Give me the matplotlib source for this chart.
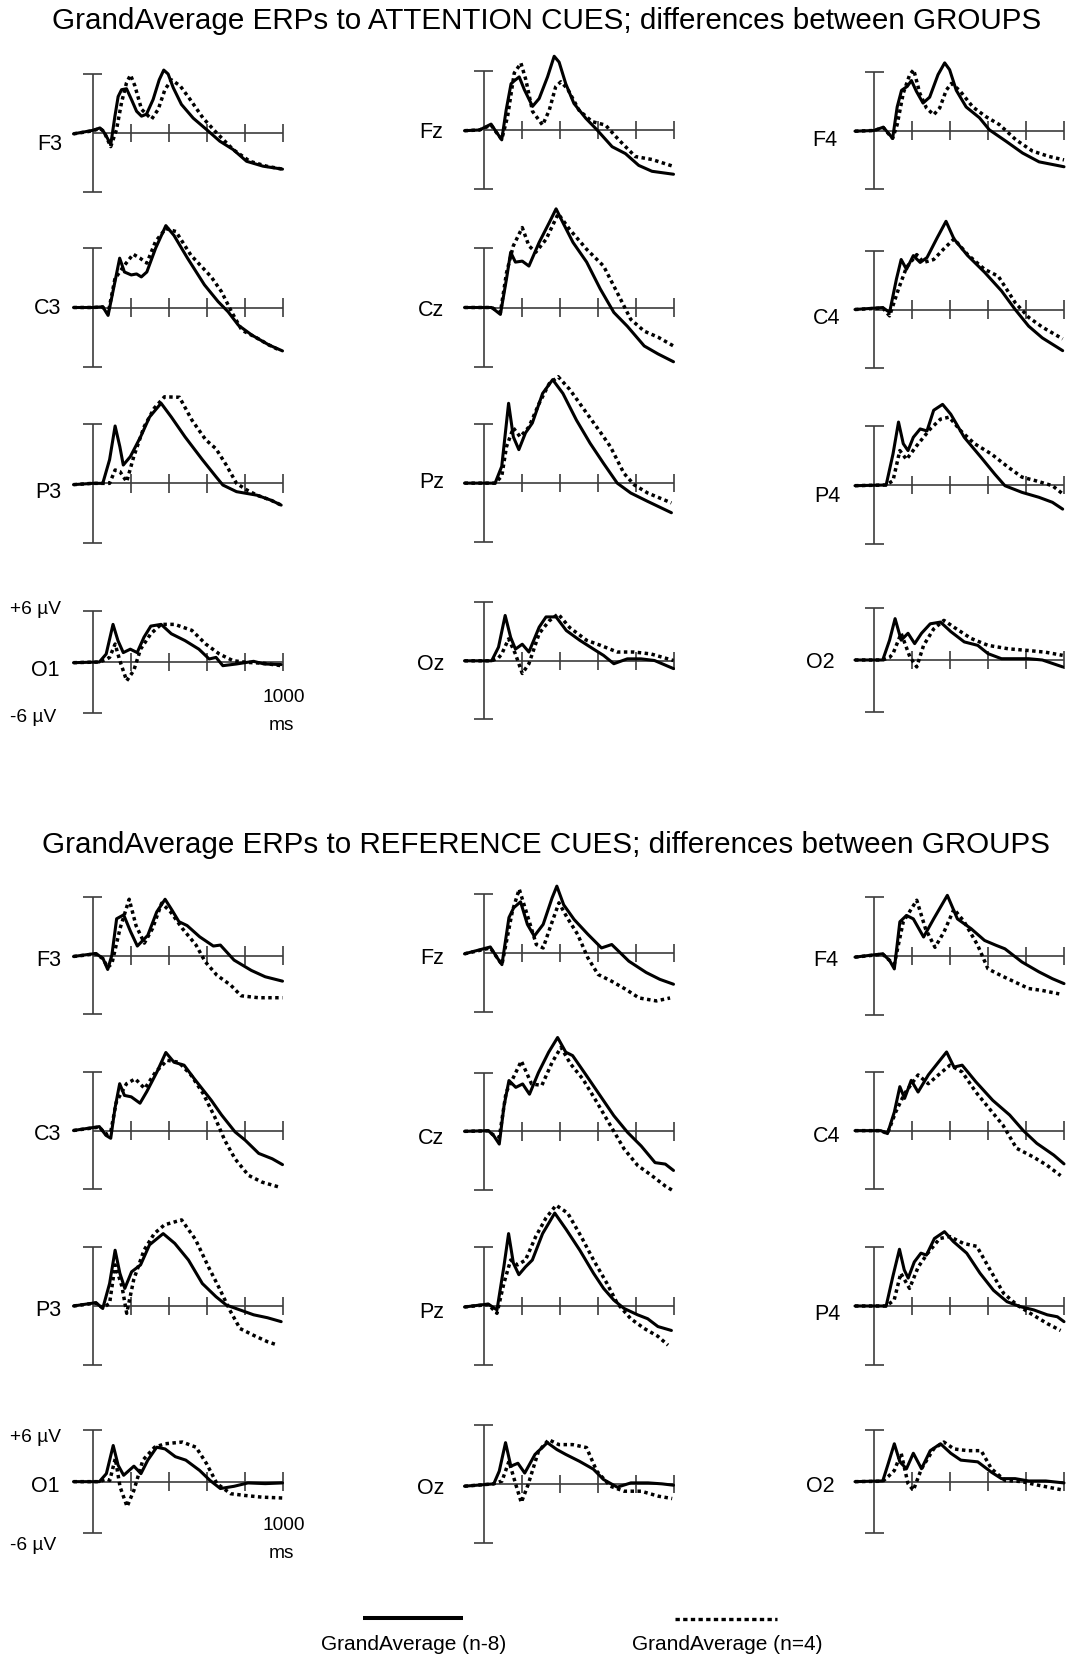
import numpy as np
import matplotlib.pyplot as plt

plt.rcParams['font.family'] = ['Liberation Sans', 'DejaVu Sans']

# ---------------- data: (ms, µV) for each channel, two groups ----------------
# ATTENTION CUES
att_F3_n8 = [(-100, -0.1), (-50, 0.07), (0, 0.25), (39, 0.5), (56, 0.2), (80, -0.6), (96, -1.2), (118, 1.7), (135, 3.7), (153, 4.4), (179, 4.5), (205, 3.4), (232, 2.2), (258, 1.7), (284, 1.9), (319, 3.4), (351, 5.4), (375, 6.4), (398, 6.0), (425, 4.6), (468, 2.9), (530, 1.5), (600, 0.34), (670, -0.85), (740, -1.7), (811, -2.9), (898, -3.4), (1000, -3.7)]
att_F3_n4 = [(-100, -0.1), (-50, 0.05), (0, 0.2), (39, 0.45), (60, 0.15), (96, -1.4), (126, 0.3), (153, 3.1), (179, 5.1), (200, 5.9), (223, 4.8), (258, 2.4), (311, 1.4), (346, 2.4), (381, 4.4), (416, 5.4), (461, 4.8), (514, 3.4), (582, 1.5), (653, 0), (740, -1.7), (828, -2.9), (916, -3.4), (1000, -3.7)]
att_Fz_n8 = [(-100, -0.07), (-21, 0), (40, 0.6), (66, -0.17), (96, -1.0), (119, 2.0), (145, 4.7), (162, 5.0), (188, 5.4), (215, 4.1), (258, 2.4), (293, 3.2), (337, 5.4), (372, 7.5), (398, 6.9), (433, 4.7), (476, 2.7), (538, 1.2), (598, 0), (677, -1.7), (747, -2.4), (817, -3.6), (887, -4.2), (1000, -4.5)]
att_Fz_n4 = [(-100, -0.07), (-21, 0), (40, 0.5), (66, -0.2), (96, -0.95), (127, 1.4), (162, 5.8), (197, 6.8), (223, 5.1), (258, 1.9), (311, 0.5), (346, 2.0), (380, 4.4), (407, 4.9), (442, 4.2), (503, 2.0), (572, 0.85), (642, 0.5), (712, -1.0), (799, -2.7), (887, -3.0), (1000, -3.7)]
att_F4_n8 = [(-100, -0.07), (0, 0), (49, 0.34), (75, -0.27), (98, -0.8), (122, 2.4), (145, 4.1), (175, 4.5), (197, 5.1), (223, 4.0), (258, 2.8), (293, 3.4), (337, 5.7), (372, 6.9), (398, 6.2), (433, 4.1), (485, 2.4), (555, 1.3), (607, 0.07), (695, -1.1), (782, -2.3), (869, -3.2), (1000, -3.7)]
att_F4_n4 = [(-100, -0.07), (0, 0), (49, 0.3), (75, -0.3), (98, -0.8), (122, 0.6), (154, 3.8), (188, 5.7), (209, 6.2), (241, 3.8), (276, 2.3), (314, 1.6), (346, 2.3), (380, 4.1), (407, 4.8), (450, 4.1), (520, 2.4), (590, 1.4), (660, 0.6), (747, -0.95), (834, -2.1), (921, -2.65), (1000, -3.0)]
att_C3_n8 = [(-100, 0), (0, 0), (54, 0.07), (82, -0.8), (118, 2.6), (143, 5.0), (168, 3.6), (204, 3.3), (232, 3.4), (257, 3.1), (286, 3.6), (332, 6.0), (386, 8.3), (429, 7.3), (500, 5.0), (589, 2.3), (661, 0.6), (714, -0.44), (768, -1.8), (839, -2.8), (929, -3.8), (1000, -4.4)]
att_C3_n4 = [(-100, 0), (0, 0), (54, 0.05), (82, -0.6), (118, 2.9), (161, 4.1), (214, 5.4), (250, 5.0), (286, 4.5), (332, 6.7), (386, 8.0), (439, 7.7), (518, 5.3), (625, 3.1), (679, 1.6), (732, -0.44), (786, -2.3), (857, -3.0), (929, -3.8), (982, -4.3)]
att_Cz_n8 = [(-100, 0), (43, 0), (89, -0.7), (121, 2.9), (143, 5.6), (168, 4.6), (204, 4.7), (239, 4.2), (293, 6.6), (346, 8.6), (382, 10.0), (418, 8.6), (471, 6.6), (543, 4.6), (614, 1.9), (686, -0.5), (757, -1.9), (846, -3.9), (918, -4.7), (1000, -5.5)]
att_Cz_n4 = [(-100, 0), (43, 0), (89, -0.5), (121, 3.5), (157, 6.25), (204, 8.1), (239, 6.25), (275, 5.6), (329, 6.9), (393, 9.5), (454, 7.9), (543, 5.9), (632, 4.2), (704, 1.5), (775, -1.2), (846, -2.4), (918, -3.0), (1000, -3.9)]
att_C4_n8 = [(-100, 0), (46, 0.2), (82, -0.3), (118, 3.1), (143, 5.1), (171, 4.1), (207, 5.5), (243, 4.8), (279, 5.3), (332, 7.3), (379, 9.0), (421, 7.2), (493, 5.5), (582, 3.8), (671, 1.9), (743, 0), (814, -1.7), (886, -2.9), (993, -4.2)]
att_C4_n4 = [(-100, 0), (46, 0.15), (82, -0.65), (129, 2.1), (171, 4.3), (225, 5.6), (261, 4.8), (314, 5.1), (368, 6.2), (421, 7.2), (493, 5.6), (582, 4.1), (654, 3.4), (743, 0.7), (814, -0.8), (886, -1.8), (993, -3.0)]
att_P3_n8 = [(-100, -0.13), (0, 0), (54, 0), (90, 2.4), (119, 5.8), (144, 3.7), (162, 1.85), (199, 2.7), (253, 4.7), (300, 6.7), (361, 8.1), (415, 6.7), (487, 4.7), (578, 2.4), (650, 0.67), (686, -0.17), (758, -0.84), (866, -1.2), (939, -1.7), (993, -2.2)]
att_P3_n4 = [(-100, -0.13), (0, 0), (54, 0), (90, 0), (119, 1.35), (144, 1.2), (180, 0.17), (217, 2.7), (271, 5.7), (325, 7.6), (379, 8.75), (458, 8.7), (523, 6.4), (596, 4.4), (650, 3.5), (704, 1.85), (758, 0), (812, -0.67), (866, -1.2), (939, -1.7), (993, -2.2)]
att_Pz_n8 = [(-100, 0), (61, 0), (96, 1.7), (132, 8.1), (157, 4.7), (186, 3.4), (221, 5.1), (257, 6.1), (311, 9.1), (364, 10.5), (418, 9.1), (489, 6.4), (561, 4.05), (632, 2.0), (704, 0), (775, -1.0), (864, -1.85), (989, -3.0)]
att_Pz_n4 = [(-100, 0), (61, 0), (96, 0.7), (121, 3.7), (157, 5.6), (193, 4.7), (239, 5.7), (293, 8.1), (346, 10.1), (393, 10.8), (454, 9.5), (543, 7.1), (614, 5.2), (668, 3.7), (739, 1.0), (793, -0.17), (864, -1.0), (989, -2.0)]
att_P4_n8 = [(-100, -0.07), (64, 0), (100, 3.15), (129, 6.4), (154, 4.2), (179, 3.5), (207, 4.85), (243, 5.7), (279, 5.5), (314, 7.6), (361, 8.2), (404, 7.2), (475, 4.85), (564, 2.8), (636, 1.1), (689, -0.07), (779, -0.75), (868, -1.25), (939, -1.76), (993, -2.45)]
att_P4_n4 = [(-100, -0.07), (64, 0), (100, 0.44), (136, 3.5), (171, 2.6), (225, 4.0), (296, 5.7), (350, 6.7), (396, 6.9), (457, 5.5), (529, 4.2), (618, 3.15), (707, 1.8), (779, 0.8), (850, 0.44), (939, -0.07), (993, -0.9)]
att_O1_n8 = [(-100, -0.08), (36, 0), (72, 0.93), (108, 4.4), (134, 2.5), (162, 1.1), (199, 1.5), (235, 1.1), (271, 2.9), (307, 4.2), (361, 4.4), (415, 3.3), (487, 2.5), (560, 1.5), (614, 0.35), (650, 0.54), (686, -0.43), (758, -0.23), (848, 0.08), (903, -0.23), (993, -0.3)]
att_O1_n4 = [(-100, -0.08), (36, 0), (72, 0.3), (90, 0.54), (119, 2.1), (144, 0.15), (180, -2.2), (217, -1.0), (253, 1.5), (307, 3.3), (361, 4.4), (433, 4.4), (523, 3.7), (596, 2.1), (668, 0.93), (740, 0.15), (812, -0.04), (903, -0.16), (993, -0.43)]
att_Oz_n8 = [(-100, 0), (43, 0), (79, 1.4), (114, 4.65), (143, 2.4), (168, 1.2), (204, 1.7), (239, 0.9), (293, 3.45), (329, 4.5), (382, 4.5), (436, 3.1), (507, 2.1), (579, 1.2), (632, 0.55), (686, -0.3), (757, 0.2), (829, 0.2), (900, 0.03), (1000, -0.8)]
att_Oz_n4 = [(-100, 0), (43, 0), (79, 0.3), (96, 0.7), (132, 2.25), (168, 0.7), (204, -1.3), (239, -0.3), (293, 2.8), (346, 4.1), (393, 4.8), (454, 3.4), (543, 2.1), (614, 1.6), (704, 0.9), (793, 0.9), (882, 0.7), (1000, 0.03)]
att_O2_n8 = [(-100, 0), (46, 0), (82, 2.3), (111, 4.8), (143, 2.3), (179, 3.1), (214, 1.9), (250, 3.1), (296, 4.2), (350, 4.4), (404, 3.3), (475, 2.1), (546, 1.7), (600, 0.74), (671, 0.15), (743, 0.15), (814, 0.15), (886, 0), (993, -0.8)]
att_O2_n4 = [(-100, 0), (46, 0), (82, 0.3), (100, 0.74), (143, 3.1), (189, 0.35), (225, -0.8), (261, 1.7), (314, 3.6), (368, 4.6), (421, 3.8), (511, 2.5), (600, 1.7), (707, 1.3), (814, 1.1), (904, 0.9), (993, 0.54)]

# REFERENCE CUES
ref_F3_n8 = [(-100, -0.07), (18, 0.24), (55, -0.27), (80, -1.4), (102, 0.07), (127, 3.8), (164, 4.2), (200, 2.5), (236, 1.0), (291, 2.1), (338, 4.5), (382, 5.8), (418, 4.7), (455, 3.5), (498, 3.1), (564, 1.95), (636, 1.0), (673, 1.1), (745, -0.44), (836, -1.5), (909, -2.15), (1000, -2.6)]
ref_F3_n4 = [(-100, -0.07), (18, 0.2), (55, -0.3), (80, -1.2), (102, -0.8), (145, 2.8), (193, 5.8), (229, 3.1), (273, 1.3), (316, 2.8), (364, 5.4), (411, 4.5), (473, 2.8), (545, 1.1), (593, -0.6), (655, -2.0), (727, -3.0), (782, -4.1), (873, -4.3), (1000, -4.3)]
ref_Fz_n8 = [(-100, -0.1), (36, 0.6), (72, -0.5), (97, -1.2), (134, 3.6), (159, 4.6), (195, 5.2), (231, 2.9), (267, 1.7), (314, 2.9), (361, 5.6), (386, 6.8), (422, 4.9), (477, 3.4), (549, 1.9), (621, 0.5), (675, 0.85), (765, -0.85), (856, -2.0), (928, -2.7), (1000, -3.2)]
ref_Fz_n4 = [(-100, -0.1), (36, 0.5), (72, -0.5), (97, -1.2), (152, 4.25), (188, 6.5), (224, 4.25), (278, 0.85), (314, 0.5), (350, 2.55), (397, 5.1), (440, 3.6), (495, 1.9), (549, -0.5), (603, -2.2), (675, -2.9), (747, -3.7), (819, -4.6), (910, -4.9), (982, -4.6)]
ref_F4_n8 = [(-100, -0.1), (46, 0.24), (82, -0.44), (107, -1.3), (136, 3.5), (171, 4.15), (207, 3.8), (261, 1.95), (314, 3.8), (386, 6.2), (439, 3.8), (511, 2.8), (582, 1.6), (643, 1.1), (689, 0.75), (779, -0.6), (868, -1.6), (939, -2.3), (1000, -2.8)]
ref_F4_n4 = [(-100, -0.1), (46, 0.2), (82, -0.44), (107, -0.8), (154, 3.5), (225, 5.7), (271, 2.8), (321, 0.9), (368, 2.45), (421, 4.8), (475, 3.5), (546, 1.1), (600, -1.3), (671, -2.0), (743, -2.65), (814, -3.3), (886, -3.5), (975, -3.85)]
ref_C3_n8 = [(-100, 0), (36, 0.4), (71, -0.5), (96, -0.8), (118, 2.25), (143, 4.8), (168, 3.6), (204, 3.45), (250, 2.8), (286, 4.0), (339, 6.0), (386, 8.0), (429, 7.0), (482, 6.7), (536, 5.3), (625, 3.1), (679, 1.6), (750, -0.14), (804, -1.0), (875, -2.35), (946, -2.9), (1000, -3.5)]
ref_C3_n4 = [(-100, 0), (36, 0.35), (71, -0.4), (96, -0.14), (125, 2.9), (179, 4.8), (225, 5.3), (275, 4.3), (332, 6.0), (393, 7.2), (454, 7.0), (518, 5.7), (582, 3.8), (643, 1.4), (696, -1.0), (750, -2.9), (821, -4.6), (893, -5.3), (982, -5.8)]
ref_Cz_n8 = [(-100, 0), (25, 0.07), (54, -0.45), (83, -1.3), (108, 2.6), (134, 5.2), (170, 4.5), (206, 4.85), (242, 3.8), (289, 6.0), (343, 8.1), (390, 9.6), (433, 8.1), (469, 7.75), (542, 5.7), (614, 3.65), (686, 1.6), (758, -0.1), (830, -1.5), (903, -3.2), (957, -3.35), (1000, -4.0)]
ref_Cz_n4 = [(-100, 0), (25, 0.05), (54, -0.4), (83, -0.6), (119, 4.0), (162, 5.7), (199, 7.2), (253, 4.85), (307, 4.7), (361, 7.05), (408, 8.6), (458, 6.9), (523, 5.35), (596, 3.0), (668, 0.6), (740, -1.8), (812, -3.5), (884, -4.5), (957, -5.6), (1000, -6.1)]
ref_C4_n8 = [(-100, 0), (36, 0), (71, -0.3), (107, 1.9), (136, 4.5), (161, 3.3), (196, 5.15), (232, 3.95), (286, 5.7), (339, 7.0), (382, 8.05), (421, 6.5), (464, 6.7), (536, 5.0), (625, 3.1), (714, 1.6), (786, 0), (857, -1.3), (946, -2.5), (1000, -3.4)]
ref_C4_n4 = [(-100, 0), (36, 0), (71, -0.3), (114, 1.9), (161, 3.8), (232, 5.7), (286, 4.8), (339, 5.7), (400, 6.7), (464, 6.0), (536, 3.95), (607, 2.25), (679, 0.55), (750, -1.8), (839, -2.7), (911, -3.55), (982, -4.6)]
ref_P3_n8 = [(-100, 0), (18, 0.34), (54, -0.24), (90, 2.3), (119, 5.7), (144, 3.35), (170, 1.8), (206, 3.5), (253, 4.2), (300, 6.25), (372, 7.4), (433, 6.4), (505, 4.7), (578, 2.3), (650, 0.95), (704, 0.1), (776, -0.4), (848, -0.9), (921, -1.2), (993, -1.6)]
ref_P3_n4 = [(-100, 0), (18, 0.3), (54, -0.2), (90, 0.27), (119, 4.2), (155, 2.0), (180, -0.75), (217, 2.7), (271, 5.7), (325, 7.4), (379, 8.3), (469, 8.8), (542, 6.8), (614, 3.85), (668, 1.8), (722, -0.4), (776, -2.3), (848, -3.0), (921, -3.65), (975, -4.0)]
ref_Pz_n8 = [(-100, -0.1), (25, 0.2), (71, -0.4), (107, 4.0), (132, 7.4), (157, 4.4), (186, 3.2), (221, 4.0), (257, 4.7), (311, 7.4), (375, 9.5), (436, 7.8), (507, 5.7), (579, 3.35), (632, 1.8), (686, 0.6), (739, -0.24), (811, -0.9), (864, -1.3), (918, -2.1), (989, -2.5)]
ref_Pz_n4 = [(-100, -0.1), (25, 0.15), (71, -0.75), (107, 2.3), (143, 4.7), (179, 4.2), (221, 4.7), (275, 7.1), (329, 9.0), (382, 10.3), (443, 9.5), (514, 7.1), (579, 4.7), (650, 2.3), (704, 0.27), (775, -1.3), (846, -2.3), (918, -3.1), (971, -4.0)]
ref_P4_n8 = [(-100, 0), (64, 0), (99, 3.0), (134, 5.8), (159, 3.7), (180, 2.85), (212, 4.5), (247, 5.4), (276, 5.2), (318, 6.9), (371, 7.6), (417, 6.6), (488, 5.4), (558, 3.35), (629, 1.6), (700, 0.44), (770, -0.07), (841, -0.4), (912, -0.9), (965, -1.1), (1000, -1.6)]
ref_P4_n4 = [(-100, 0), (64, 0), (106, 0.6), (141, 3.35), (187, 1.8), (233, 4.0), (283, 5.4), (346, 6.9), (399, 7.1), (470, 6.4), (541, 6.1), (611, 3.7), (682, 1.3), (753, 0.1), (823, -0.75), (912, -1.8), (982, -2.5)]
ref_O1_n8 = [(-100, 0), (36, 0), (73, 0.93), (109, 4.2), (135, 1.9), (164, 0.74), (218, 1.8), (255, 0.93), (291, 2.5), (338, 4.0), (382, 3.8), (436, 2.9), (491, 2.5), (564, 1.3), (618, 0.15), (673, -0.8), (745, -0.54), (818, -0.15), (909, -0.23), (1000, -0.15)]
ref_O1_n4 = [(-100, 0), (36, 0), (73, 0.3), (91, 0.15), (120, 2.7), (145, -0.6), (182, -2.9), (218, -1.0), (265, 2.5), (327, 4.0), (382, 4.4), (473, 4.6), (545, 4.0), (600, 2.1), (655, -0.23), (727, -1.4), (800, -1.6), (891, -1.8), (1000, -1.9)]
ref_Oz_n8 = [(-100, -0.24), (54, 0), (83, 1.3), (116, 4.2), (144, 1.8), (181, 2.1), (217, 1.1), (271, 3.0), (336, 4.2), (386, 3.5), (433, 3.0), (505, 2.3), (578, 1.5), (632, 0.44), (704, -0.34), (776, 0.1), (866, 0.1), (939, 0), (1000, -0.14)]
ref_Oz_n4 = [(-100, -0.24), (54, 0), (83, 0.2), (97, 0.27), (134, 2.3), (170, -0.07), (199, -1.9), (235, -0.07), (289, 3.3), (343, 4.5), (397, 4.0), (469, 4.0), (542, 3.7), (596, 1.3), (668, -0.24), (740, -0.75), (830, -0.75), (921, -1.26), (993, -1.5)]
ref_O2_n8 = [(-100, 0), (46, 0.08), (75, 2.1), (107, 4.4), (136, 2.3), (171, 1.5), (207, 3.3), (250, 1.5), (296, 3.6), (350, 4.4), (404, 3.3), (457, 2.5), (546, 2.3), (618, 1.1), (671, 0.35), (743, 0.35), (814, 0.08), (904, 0.08), (1000, -0.15)]
ref_O2_n4 = [(-100, 0), (46, 0.05), (75, 0.6), (107, 1.3), (143, 3.3), (179, -0.23), (207, -1.0), (250, 1.5), (314, 3.8), (368, 4.6), (421, 3.8), (493, 3.6), (564, 3.6), (618, 1.5), (689, 0.15), (779, 0), (868, -0.43), (1000, -1.0)]

channels = [['F3', 'Fz', 'F4'], ['C3', 'Cz', 'C4'], ['P3', 'Pz', 'P4'], ['O1', 'Oz', 'O2']]
ticks_ms = [200, 400, 600, 800, 1000]
titles = ['GrandAverage ERPs to ATTENTION CUES; differences between GROUPS',
          'GrandAverage ERPs to REFERENCE CUES; differences between GROUPS']
legend_labels = ['GrandAverage (n-8)', 'GrandAverage (n=4)']

g = globals()
att = {ch: (g['att_%s_n8' % ch], g['att_%s_n4' % ch]) for row in channels for ch in row}
ref = {ch: (g['ref_%s_n8' % ch], g['ref_%s_n4' % ch]) for row in channels for ch in row}

# ---------------- layout (pixels of the 1069x1657 canvas) ----------------
W, H = 1069, 1657
col_x = [92.5, 483.5, 874]
att_box = [[(74, 191.7), (71, 189), (71.7, 189.3)],
           [(248.3, 366.7), (248.3, 366.7), (250.7, 368.3)],
           [(424, 542.7), (424, 542.3), (426, 544)],
           [(610.7, 713.3), (602.3, 719.3), (608.3, 711.7)]]
ref_box = [[(897.3, 1014.3), (894, 1011.7), (897.3, 1015)],
           [(1072, 1189), (1072.7, 1190), (1072, 1189.3)],
           [(1247.3, 1364.7), (1247.3, 1364.7), (1247.3, 1364.7)],
           [(1430, 1533.3), (1425, 1542.7), (1430, 1533.3)]]
att_lab = [[(62, 144), (443, 132), (837, 141)], [(61, 309), (444, 311), (840, 319)],
           [(61, 492), (444, 483), (840, 497)], [(60, 671), (444, 664), (835, 663)]]
ref_lab = [[(61, 961), (444, 958), (838, 960)], [(61, 1134), (444, 1138), (840, 1137)],
           [(61, 1311), (444, 1312), (840, 1315)], [(60, 1487), (444, 1488), (835, 1487)]]

axcol = '#3c3c3c'
fig = plt.figure(figsize=(W / 100, H / 100), dpi=100)

ov = fig.add_axes([0, 0, 1, 1])
ov.set_xlim(0, W)
ov.set_ylim(H, 0)
ov.axis('off')


def draw_panel(x0, top, bot, solid, dotted):
    ppm = 0.19
    ax = fig.add_axes([(x0 - 100 * ppm) / W, 1 - bot / H, 1100 * ppm / W, (bot - top) / H])
    ax.set_xlim(-100, 1000)
    ax.set_ylim(-6, 6)
    ax.axis('off')
    tk = 9.3 / ((bot - top) / 12.0)
    kw = dict(color=axcol, lw=1.2, clip_on=False, solid_capstyle='butt')
    ax.plot([0, 0], [-6, 6], **kw)
    ax.plot([-50, 50], [6, 6], **kw)
    ax.plot([-50, 50], [-6, -6], **kw)
    ax.plot([0, 1000], [0, 0], **kw)
    for t in ticks_ms:
        ax.plot([t, t], [-tk, tk], **kw)
    t, v = zip(*solid)
    ax.plot(t, v, color='black', lw=2.2, clip_on=False, zorder=3,
            solid_joinstyle='round', solid_capstyle='round')
    t, v = zip(*dotted)
    ax.plot(t, v, color='black', lw=2.5, ls=(0, (1, 1)), clip_on=False, zorder=4)


for data, boxes, labs, ty, yoff in [(att, att_box, att_lab, 21, 0), (ref, ref_box, ref_lab, 845, 827)]:
    ov.text(546.5, ty, titles[0 if yoff == 0 else 1], ha='center', va='center', fontsize=21.3)
    for r, row in enumerate(channels):
        for c, ch in enumerate(row):
            top, bot = boxes[r][c]
            draw_panel(col_x[c], top, bot, *data[ch])
            lx, ly = labs[r][c]
            ov.text(lx, ly, ch, ha='right', va='center', fontsize=15.5)
    ov.text(10, 610 + yoff, '+6 µV', ha='left', va='center', fontsize=13.8)
    ov.text(10, 718 + yoff, '-6 µV', ha='left', va='center', fontsize=13.8)
    ov.text(262, 698 + yoff, '1000', ha='left', va='center', fontsize=13.8)
    ov.text(281, 726 + yoff, 'ms', ha='center', va='center', fontsize=13.8)

# legend
ov.plot([363, 463], [1618, 1618], color='black', lw=2.9, solid_capstyle='butt')
ov.plot([675, 777], [1619, 1619], color='black', lw=2.4, ls=(0, (1.3, 1)))
ov.text(414, 1645, legend_labels[0], ha='center', va='center', fontsize=15)
ov.text(727, 1645, legend_labels[1], ha='center', va='center', fontsize=15)

fig.savefig('out.png', dpi=100, facecolor='white')
